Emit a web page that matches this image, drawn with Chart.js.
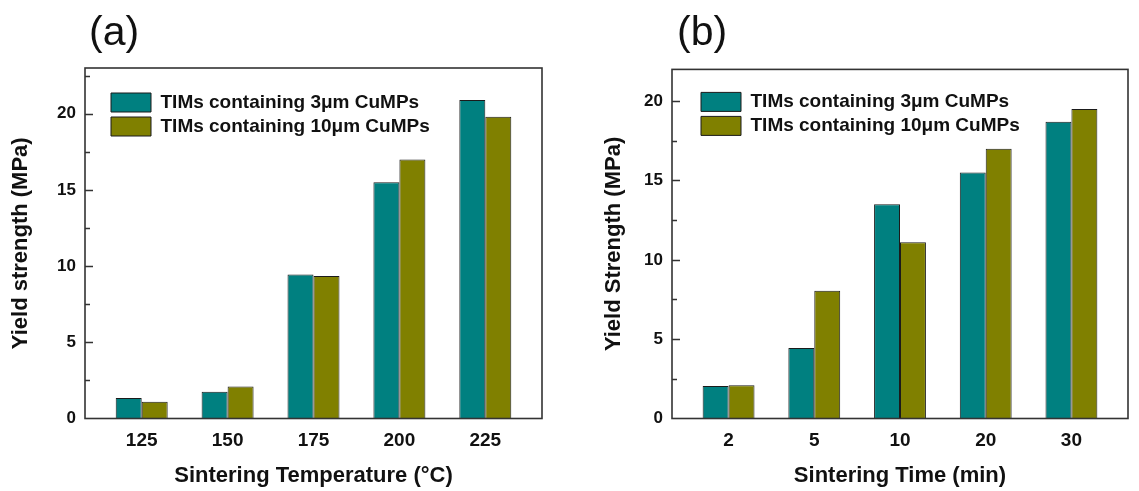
<!DOCTYPE html>
<html>
<head>
<meta charset="utf-8">
<title>Yield strength of sintered TIMs</title>
<script src="https://cdn.jsdelivr.net/npm/chart.js@4.4.0/dist/chart.umd.min.js"></script>
<style>
  html, body { margin: 0; padding: 0; background: #fff; }
  body { position: relative; width: 1139px; height: 491px; overflow: hidden; }
  .panel { position: absolute; top: 0; height: 491px; }
  #panelA { left: 0; width: 570px; }
  #panelB { left: 570px; width: 569px; }
</style>
</head>
<body>
<div class="panel" id="panelA"><canvas id="chartA" width="570" height="491"></canvas></div>
<div class="panel" id="panelB"><canvas id="chartB" width="569" height="491"></canvas></div>
<script>
// Series names shared by both panels
const SERIES_NAMES = ['TIMs containing 3\u03bcm CuMPs', 'TIMs containing 10\u03bcm CuMPs'];

// (a) yield strength vs sintering temperature
const TEMP_LABELS = ['125', '150', '175', '200', '225'];
const TEMP_3UM = [1.35, 1.75, 9.45, 15.5, 20.9];
const TEMP_10UM = [1.1, 2.1, 9.35, 17.0, 19.8];

// (b) yield strength vs sintering time
const TIME_LABELS = ['2', '5', '10', '20', '30'];
const TIME_3UM = [2.05, 4.45, 13.5, 15.5, 18.7];
const TIME_10UM = [2.1, 8.05, 11.1, 17.0, 19.5];

const TEAL = '#008080';
const OLIVE = '#808000';
const INK = '#111';
const FRAME = '#333';

Chart.defaults.font.family = '"Liberation Sans", Arial, Helvetica, sans-serif';
Chart.defaults.color = INK;

/**
 * Box frame, inward y ticks (major every 5, minor every 2.5),
 * panel tag and legend placement inside the plot box.
 */
const framePlugin = {
  id: 'frame',
  afterLayout(chart, args, opts) {
    const area = chart.chartArea;
    if (chart.legend) {
      chart.legend.left = area.left + opts.legendDx;
      chart.legend.top = area.top + opts.legendDy;
    }
  },
  afterDraw(chart, args, opts) {
    const { ctx, chartArea: a, scales } = chart;
    const y = scales.y;
    ctx.save();
    ctx.strokeStyle = FRAME;
    ctx.lineWidth = 1.6;

    // inward ticks on the left edge
    ctx.beginPath();
    for (let v = 2.5; v <= y.max + 1e-6; v += 2.5) {
      const py = Math.round(y.getPixelForValue(v)) + 0.5;
      const len = v % 5 === 0 ? 8 : 5;
      ctx.moveTo(a.left, py);
      ctx.lineTo(a.left + len, py);
    }
    ctx.stroke();

    ctx.strokeRect(a.left, a.top, a.right - a.left, a.bottom - a.top);

    // panel tag, e.g. "(a)"
    ctx.fillStyle = INK;
    ctx.font = '41px "Liberation Sans", Arial, sans-serif';
    ctx.textBaseline = 'alphabetic';
    ctx.textAlign = 'left';
    ctx.fillText(opts.tag, opts.tagX, opts.tagY);
    ctx.restore();
  }
};

function buildPanel(canvasId, cfg) {
  const ctx = document.getElementById(canvasId).getContext('2d');
  const toPoints = (values) => values.map((v, i) => ({ x: i, y: v }));

  return new Chart(ctx, {
    type: 'bar',
    data: {
      datasets: [
        {
          label: SERIES_NAMES[0],
          data: toPoints(cfg.small),
          backgroundColor: TEAL,
          borderColor: '#1b1b1b',
          borderWidth: 1
        },
        {
          label: SERIES_NAMES[1],
          data: toPoints(cfg.large),
          backgroundColor: OLIVE,
          borderColor: '#1b1b1b',
          borderWidth: 1
        }
      ]
    },
    options: {
      responsive: false,
      animation: false,
      events: [],
      categoryPercentage: 0.605,
      barPercentage: 1.0,
      layout: { padding: cfg.padding },
      scales: {
        x: {
          type: 'linear',
          offset: false,
          min: -0.66,
          max: cfg.labels.length - 0.34,
          afterFit: (scale) => { scale.height = 72.5; },
          grid: { display: false, drawTicks: false, offset: false },
          border: { display: false },
          ticks: {
            stepSize: 1,
            includeBounds: false,
            autoSkip: false,
            maxRotation: 0,
            padding: 11,
            color: INK,
            font: { size: 19, weight: 'bold' },
            callback: (value) => Number.isInteger(value) ? (cfg.labels[value] ?? '') : ''
          },
          title: {
            display: true,
            text: cfg.xTitle,
            color: INK,
            font: { size: 22, weight: 'bold' },
            padding: { top: 0, bottom: 2 }
          }
        },
        y: {
          min: 0,
          max: cfg.yMax,
          afterFit: (scale) => { scale.width = cfg.yWidth; },
          grid: { display: false, drawTicks: false },
          border: { display: false },
          ticks: {
            stepSize: 5,
            includeBounds: false,
            padding: 9,
            color: INK,
            font: { size: 17, weight: 'bold' }
          },
          title: {
            display: true,
            text: cfg.yTitle,
            color: INK,
            font: { size: 22, weight: 'bold' },
            padding: { top: cfg.yTitlePad, bottom: 0 }
          }
        }
      },
      plugins: {
        legend: {
          position: 'chartArea',
          align: 'start',
          labels: {
            boxWidth: 40,
            boxHeight: 19,
            padding: 5,
            color: INK,
            font: { size: 19, weight: 'bold' }
          }
        },
        tooltip: { enabled: false },
        frame: cfg.frame
      }
    },
    plugins: [framePlugin]
  });
}

buildPanel('chartA', {
  labels: TEMP_LABELS,
  small: TEMP_3UM,
  large: TEMP_10UM,
  yMax: 23,
  yWidth: 85,
  yTitlePad: 8,
  padding: { left: 0, top: 68, right: 28, bottom: 0 },
  xTitle: 'Sintering Temperature (\u00b0C)',
  yTitle: 'Yield strength (MPa)',
  frame: { tag: '(a)', tagX: 89, tagY: 45, legendDx: 21, legendDy: 20 }
});

buildPanel('chartB', {
  labels: TIME_LABELS,
  small: TIME_3UM,
  large: TIME_10UM,
  yMax: 22,
  yWidth: 102,
  yTitlePad: 31,
  padding: { left: 0, top: 69.4, right: 11, bottom: 0 },
  xTitle: 'Sintering Time (min)',
  yTitle: 'Yield Strength (MPa)',
  frame: { tag: '(b)', tagX: 107, tagY: 45, legendDx: 24, legendDy: 18 }
});
</script>
</body>
</html>
